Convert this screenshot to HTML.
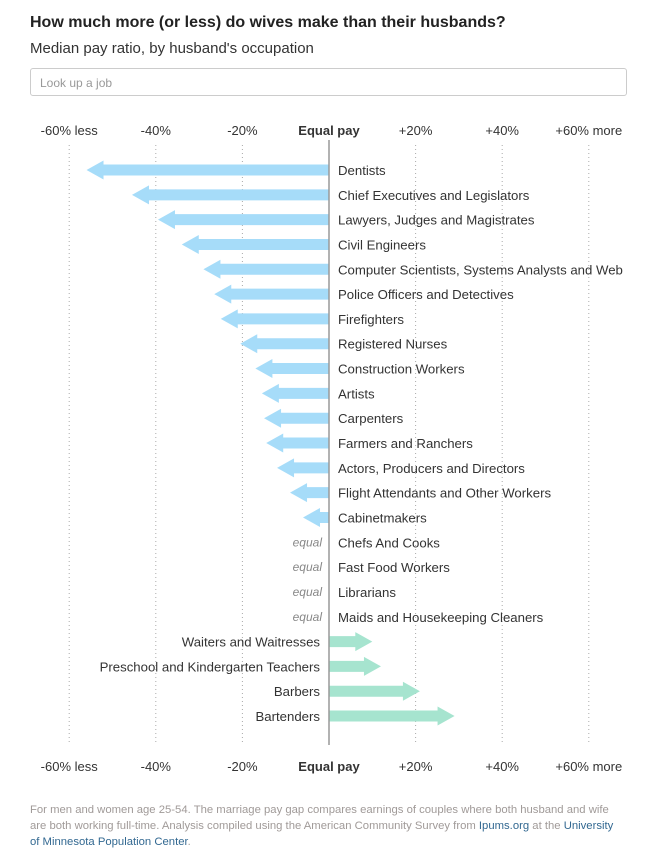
<!DOCTYPE html>
<html><head><meta charset="utf-8"><style>
body{margin:0;background:#fff;font-family:"Liberation Sans",Arial,sans-serif;width:650px;height:864px;overflow:hidden;position:relative}
h1{position:absolute;left:30px;top:14px;margin:0;font-size:16px;font-weight:bold;color:#222}
.sub{position:absolute;left:30px;top:40px;font-size:15px;color:#333}
.search{position:absolute;left:30px;top:68px;width:597px;height:28px;border:1px solid #ccc;border-radius:3px;box-sizing:border-box;font-size:12px;color:#999;padding:7px 9px}
.foot{position:absolute;left:30px;top:802px;width:590px;font-size:11.3px;line-height:16px;color:#a09a98}
.foot a{color:#326891;text-decoration:none}
svg text{font-family:"Liberation Sans",Arial,sans-serif}
</style></head><body>
<h1>How much more (or less) do wives make than their husbands?</h1>
<div class="sub">Median pay ratio, by husband's occupation</div>
<div class="search">Look up a job</div>
<svg id="chart" width="650" height="790" style="position:absolute;left:0;top:0"></svg>
<div class="foot">For men and women age 25-54. The marriage pay gap compares earnings of couples where both husband and wife are both working full-time. Analysis compiled using the American Community Survey from <a>Ipums.org</a> at the <a>University of Minnesota Population Center</a>.</div>
<script>
const categories=["Dentists","Chief Executives and Legislators","Lawyers, Judges and Magistrates","Civil Engineers","Computer Scientists, Systems Analysts and Web","Police Officers and Detectives","Firefighters","Registered Nurses","Construction Workers","Artists","Carpenters","Farmers and Ranchers","Actors, Producers and Directors","Flight Attendants and Other Workers","Cabinetmakers","Chefs And Cooks","Fast Food Workers","Librarians","Maids and Housekeeping Cleaners","Waiters and Waitresses","Preschool and Kindergarten Teachers","Barbers","Bartenders"];
const values=[-56,-45.5,-39.5,-34,-29,-26.5,-25,-20.5,-17,-15.5,-15,-14.5,-12,-9,-6,0,0,0,0,10,12,21,29];
const tickValues=[-60,-40,-20,0,20,40,60];
const tickLabels=["-60% less","-40%","-20%","Equal pay","+20%","+40%","+60% more"];
const svg=document.getElementById('chart');const NS='http://www.w3.org/2000/svg';
const x=v=>329+v*4.33;const y=i=>170+i*24.82;
function mk(t,a){const e=document.createElementNS(NS,t);for(const k in a)e.setAttribute(k,a[k]);svg.appendChild(e);return e;}
tickValues.forEach((v,i)=>{
 if(v!==0){const g=mk('line',{x1:x(v),x2:x(v),y1:145,y2:745,stroke:'#aaa','stroke-dasharray':'1,3'});
 
 }
 [130,766].forEach(ty=>{const t=mk('text',{x:x(v),y:ty+5,'text-anchor':'middle','font-size':13,fill:'#333','font-weight':v===0?'bold':'normal'});t.textContent=tickLabels[i];
 
 });
});
categories.forEach((c,i)=>{
 const v=values[i],cy=y(i),x0=x(0);
 if(v!==0){const tip=x(v),dir=v<0?-1:1,hb=tip-dir*17;
  const p=mk('polygon',{points:`${x0},${cy-5.5} ${hb},${cy-5.5} ${hb},${cy-9.5} ${tip},${cy} ${hb},${cy+9.5} ${hb},${cy+5.5} ${x0},${cy+5.5}`,fill:v<0?'#a6dcf9':'#a6e4cf'});
  
  }
 else{const e=mk('text',{x:322,y:cy+4,'text-anchor':'end','font-size':12,'font-style':'italic',fill:'#888'});e.textContent='equal';
  
  }
 const right=v<=0;const t=mk('text',{x:right?338:320,y:cy+5,'text-anchor':right?'start':'end','font-size':13.2,fill:'#333'});t.textContent=c;
 
 
});
const z=mk('line',{x1:x(0),x2:x(0),y1:140,y2:745,stroke:'#999','stroke-width':1.5});


</script>
</body></html>
